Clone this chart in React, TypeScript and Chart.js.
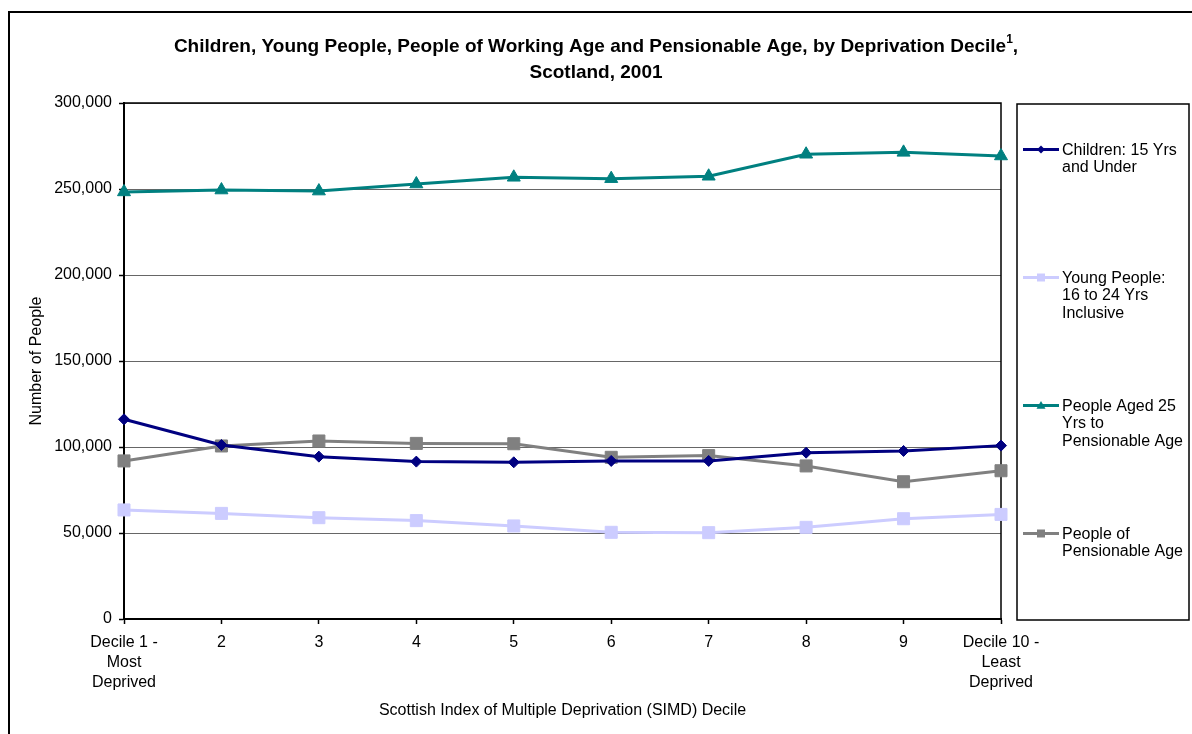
import React, { useEffect, useRef } from "react";
import { Chart, registerables } from "chart.js";

Chart.register(...registerables);

const FONT = "'Liberation Sans', Arial, Helvetica, sans-serif";

// ---- data ----
const categories: (string | string[])[] = [
  ["Decile 1 -", "Most", "Deprived"],
  "2",
  "3",
  "4",
  "5",
  "6",
  "7",
  "8",
  "9",
  ["Decile 10 -", "Least", "Deprived"],
];

const children = [116100, 101200, 94400, 91500, 91100, 91900, 91900, 96700, 97700, 100800];
const youngPeople = [63400, 61400, 58900, 57200, 54100, 50400, 50200, 53300, 58300, 60800];
const workingAge = [248300, 249400, 248800, 252900, 256800, 256000, 257400, 270200, 271300, 269200];
const pensionable = [91900, 100600, 103500, 102100, 101900, 94000, 95000, 89000, 79800, 86200];

const seriesNames = [
  "Children: 15 Yrs and Under",
  "Young People: 16 to 24 Yrs Inclusive",
  "People Aged 25 Yrs to Pensionable Age",
  "People of Pensionable Age",
];
const legendLines = [
  ["Children: 15 Yrs", "and Under"],
  ["Young People:", "16 to 24 Yrs", "Inclusive"],
  ["People Aged 25", "Yrs to", "Pensionable Age"],
  ["People of", "Pensionable Age"],
];
const seriesColors = ["#000080", "#CCCCFF", "#008080", "#808080"];
const seriesMarkers = ["rectRot", "rect", "triangle", "rect"];

const yMin = 0;
const yMax = 300000;
const yStep = 50000;

const titleMain = "Children, Young People, People of Working Age and Pensionable Age, by Deprivation Decile";
const titleSup = "1";
const titleTail = ",";
const titleLine2 = "Scotland, 2001";
const yTitle = "Number of People";
const xTitle = "Scottish Index of Multiple Deprivation (SIMD) Decile";

function drawMarker(ctx: CanvasRenderingContext2D, style: string, x: number, y: number, s: number) {
  ctx.beginPath();
  if (style === "rectRot") {
    ctx.moveTo(x, y - s);
    ctx.lineTo(x + s, y);
    ctx.lineTo(x, y + s);
    ctx.lineTo(x - s, y);
    ctx.closePath();
  } else if (style === "triangle") {
    ctx.moveTo(x, y - s);
    ctx.lineTo(x + s, y + s * 0.7);
    ctx.lineTo(x - s, y + s * 0.7);
    ctx.closePath();
  } else {
    ctx.rect(x - s, y - s, 2 * s, 2 * s);
  }
  ctx.fill();
}

const decorPlugin = {
  id: "decor",
  beforeDraw(chart: any) {
    const ctx = chart.ctx as CanvasRenderingContext2D;
    ctx.save();
    ctx.fillStyle = "#ffffff";
    ctx.fillRect(0, 0, chart.width, chart.height);
    ctx.strokeStyle = "#000";
    ctx.lineWidth = 2;
    ctx.beginPath();
    ctx.moveTo(9, chart.height + 5);
    ctx.lineTo(9, 12);
    ctx.lineTo(chart.width + 5, 12);
    ctx.stroke();
    ctx.restore();
  },
  beforeDatasetsDraw(chart: any) {
    const ctx = chart.ctx as CanvasRenderingContext2D;
    const a = chart.chartArea;
    ctx.save();
    ctx.strokeStyle = "#000";
    ctx.lineWidth = 1.5;
    ctx.beginPath();
    ctx.moveTo(a.left, a.top);
    ctx.lineTo(a.right, a.top);
    ctx.lineTo(a.right, a.bottom);
    ctx.stroke();
    ctx.restore();
  },
  afterDraw(chart: any) {
    const ctx = chart.ctx as CanvasRenderingContext2D;
    ctx.save();
    // title
    ctx.fillStyle = "#000";
    ctx.textBaseline = "middle";
    ctx.textAlign = "left";
    const mainFont = `bold 19px ${FONT}`;
    const supFont = `bold 12px ${FONT}`;
    ctx.font = mainFont;
    const wMain = ctx.measureText(titleMain).width;
    const wTail = ctx.measureText(titleTail).width;
    ctx.font = supFont;
    const wSup = ctx.measureText(titleSup).width;
    const total = wMain + wSup + wTail;
    const cx = 596;
    let x = cx - total / 2;
    const y1 = 47;
    ctx.font = mainFont;
    ctx.fillText(titleMain, x, y1);
    x += wMain;
    ctx.font = supFont;
    ctx.fillText(titleSup, x, y1 - 7);
    x += wSup;
    ctx.font = mainFont;
    ctx.fillText(titleTail, x, y1);
    ctx.textAlign = "center";
    ctx.fillText(titleLine2, cx, 73);

    // legend box
    ctx.strokeStyle = "#000";
    ctx.lineWidth = 1.5;
    ctx.strokeRect(1017, 104, 172, 516);
    const ds = chart.data.datasets;
    ctx.font = `16px ${FONT}`;
    ctx.textAlign = "left";
    for (let i = 0; i < ds.length; i++) {
      const y0 = 149.5 + i * 128;
      ctx.strokeStyle = ds[i].borderColor;
      ctx.lineWidth = 3;
      ctx.beginPath();
      ctx.moveTo(1023, y0);
      ctx.lineTo(1059, y0);
      ctx.stroke();
      ctx.fillStyle = ds[i].borderColor;
      const st = seriesMarkers[i];
      drawMarker(ctx, st, 1041, y0, st === "rectRot" ? 4 : st === "triangle" ? 4.5 : 4);
      ctx.fillStyle = "#000";
      legendLines[i].forEach((t, k) => ctx.fillText(t, 1062, y0 + 1 + k * 17.5));
    }
    ctx.restore();
  },
};

export default function App() {
  const ref = useRef<HTMLCanvasElement>(null);
  useEffect(() => {
    if (!ref.current) return;
    Chart.defaults.font.family = FONT;
    Chart.defaults.color = "#000";
    const values = [children, youngPeople, workingAge, pensionable];
    const radii = [5.5, 8.5, 7.5, 8.5];
    const chart = new Chart(ref.current, {
      type: "line",
      data: {
        labels: categories as any,
        datasets: values.map((v, i) => ({
          label: seriesNames[i],
          data: v,
          borderColor: seriesColors[i],
          backgroundColor: seriesColors[i],
          pointBackgroundColor: seriesColors[i],
          pointBorderColor: seriesColors[i],
          pointBorderWidth: 1,
          pointStyle: seriesMarkers[i] as any,
          pointRadius: radii[i],
          pointHoverRadius: radii[i],
          borderWidth: 3,
          tension: 0,
          fill: false,
          clip: false as any,
        })),
      },
      plugins: [decorPlugin],
      options: {
        responsive: false,
        animation: false,
        devicePixelRatio: 1,
        layout: { padding: { top: 103, right: 191, bottom: 0, left: 0 } },
        plugins: {
          legend: { display: false },
          title: { display: false },
          tooltip: { enabled: false },
        },
        scales: {
          x: {
            offset: false,
            grid: { drawOnChartArea: false, tickLength: 5, tickColor: "#000", tickWidth: 1.5 },
            border: { color: "#000", width: 2 },
            ticks: {
              maxRotation: 0,
              minRotation: 0,
              autoSkip: false,
              padding: 8,
              color: "#000",
              font: { size: 16, lineHeight: 1.27 },
            },
            title: {
              display: true,
              text: xTitle,
              color: "#000",
              font: { size: 16 },
              padding: { top: 0, bottom: 14 },
            },
            afterFit: (s: any) => {
              s.height = 115;
            },
          },
          y: {
            min: yMin,
            max: yMax,
            grid: { color: "#666666", lineWidth: 1, tickLength: 5, tickColor: "#000", tickWidth: 1.5 },
            border: { color: "#000", width: 2 },
            ticks: {
              stepSize: yStep,
              padding: 7,
              color: "#000",
              font: { size: 16 },
              callback: (v: any) => Number(v).toLocaleString("en-US"),
            },
            title: {
              display: true,
              text: yTitle,
              color: "#000",
              font: { size: 16 },
              padding: { top: 27, bottom: 0 },
            },
            afterFit: (s: any) => {
              s.width = 124;
            },
          },
        },
      },
    } as any);
    return () => chart.destroy();
  }, []);
  return (
    <div style={{ position: "absolute", left: 0, top: 0, width: 1192, height: 734 }}>
      <canvas ref={ref} width={1192} height={734} style={{ display: "block" }} />
    </div>
  );
}
